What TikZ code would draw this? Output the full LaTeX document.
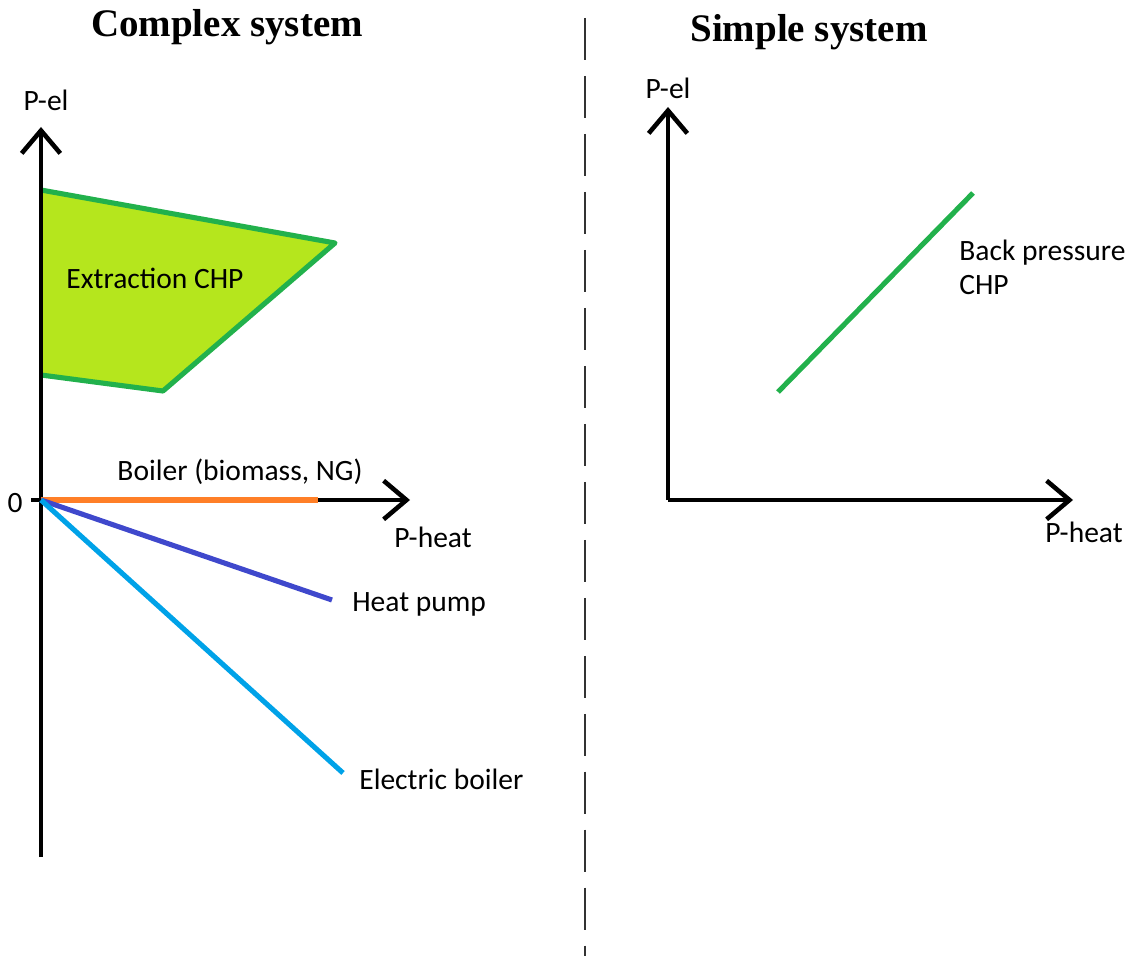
\documentclass[tikz,border=0pt]{standalone}
\usepackage{fontspec}
\setmainfont{Carlito}
\newfontfamily\titlefont{Liberation Serif}
\usepackage{tikz}
\usetikzlibrary{arrows.meta,positioning}

\definecolor{chpfill}{HTML}{B5E61D}
\definecolor{chpline}{HTML}{22B14C}
\definecolor{boilcol}{HTML}{FF7F27}
\definecolor{hpcol}{HTML}{3F48CC}
\definecolor{ebcol}{HTML}{00A2E8}

\begin{document}
\begin{tikzpicture}[x=0.02cm, y=-0.02cm, >={Straight Barb[length=13pt,width=22pt]},
  axis/.style={line width=2.6pt, ->},
  curve/.style={line width=2.9pt},
  lbl/.style={inner sep=0pt, font=\fontsize{16.8}{19.5}\selectfont},
  title/.style={inner sep=0pt, font=\titlefont\bfseries\fontsize{22.2}{26}\selectfont}]
  \useasboundingbox (0,0) rectangle (1129,956);

  % titles and divider
  \node[title] (title1) at (227,27) {Complex system};
  \node[title] (title2) at (809,32) {Simple system};
  \coordinate (divtop) at (585,18);
  \coordinate (divbot) at (585,956);
  \draw[line width=0.9pt, gray!40!black, dash pattern=on 24pt off 9pt] (divtop) -- (divbot);

  % complex system: points
  \coordinate (o1) at (41,500);
  \coordinate (ytop1) at (41,127);
  \coordinate (ybot1) at (41,857);
  \coordinate (tick1) at (31,500);
  \coordinate (xtip1) at (410,500);
  \coordinate (c1) at (41,190);
  \coordinate (c2) at (335,243);
  \coordinate (c3) at (163,391);
  \coordinate (c4) at (41,375);
  \coordinate (boilend) at (318,500);
  \coordinate (hpend) at (332,600);
  \coordinate (ebend) at (343,773);

  % extraction CHP area
  \fill[chpfill] (c1) -- (c2) -- (c3) -- (c4) -- cycle;
  \draw[curve, chpline, line join=round] (c1) -- (c2) -- (c3) -- (c4);
  \node[lbl] (extr) at (155,278) {Extraction CHP};

  % axes
  \draw[axis] (ybot1) -- (ytop1);
  \draw[axis] (tick1) -- (xtip1);
  \node[lbl] (pel1) at (46,100) {P-el};
  \node[lbl] (pheat1) at (433,537) {P-heat};
  \node[lbl] (zero) at (15,503) {0};

  % units
  \draw[curve, boilcol] (o1) -- (boilend);
  \draw[curve, hpcol] (o1) -- (hpend);
  \draw[curve, ebcol] (o1) -- (ebend);
  \node[lbl] (boil) at (240,472) {Boiler (biomass, NG)};
  \node[lbl, anchor=west] (hp) at (352,604) {Heat pump};
  \node[lbl, anchor=west] (eb) at (359,779) {Electric boiler};

  % simple system
  \coordinate (o2) at (668,500);
  \coordinate (ytop2) at (668,107);
  \coordinate (xtip2) at (1073,500);
  \coordinate (bp1) at (778,392);
  \coordinate (bp2) at (973,193);
  \draw[axis] (o2) -- (ytop2);
  \draw[axis] (o2) -- (xtip2);
  \draw[curve, chpline] (bp1) -- (bp2);
  \node[lbl] (pel2) at (668,88) {P-el};
  \node[lbl] (pheat2) at (1084,532) {P-heat};
  \node[lbl, anchor=west, align=left] (bp) at (959,267) {Back pressure\\CHP};
\end{tikzpicture}
\end{document}
